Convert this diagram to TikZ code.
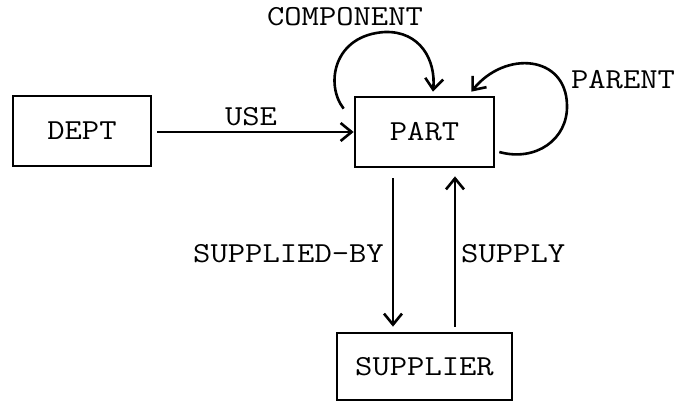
\documentclass[tikz,border=0pt]{standalone}
\usepackage{graphicx}
\usetikzlibrary{arrows.meta,calc}
% typewriter lettering, widened a little
\newcommand{\tw}[1]{\scalebox{1.16}[1]{\fontsize{29}{29}\selectfont\ttfamily #1}}
\tikzset{
  entity/.style={draw, line width=2.7pt, inner sep=0pt, minimum height=70pt},
  arr/.style={line width=2.6pt, -{Straight Barb[length=11pt,width=18pt,line width=2.6pt]}},
  lbl/.style={inner sep=0pt}
}
\begin{document}
\begin{tikzpicture}[x=1pt,y=-1pt]
\useasboundingbox (0,0) rectangle (683,403);

% entities
\node[entity, minimum width=138pt] (dept) at (82,131) {\tw{DEPT}};
\node[entity, minimum width=139pt] (part) at (424.5,132) {\tw{PART}};
\node[entity, minimum width=175pt, minimum height=67pt] (supplier) at (424.5,366.5) {\tw{SUPPLIER}};

% DEPT -> PART
\draw[arr] ($(dept.east)+(5,1)$) -- (part.west);
\node[lbl] (use) at (251,117) {\tw{USE}};

% recursive relationships on PART
\draw[arr] ($(part.north west)+(-10,13)$)
   .. controls (325,85) and (333,35) .. (385,32)
   .. controls (420,31) and (436,60) .. ($(part.north)+(8.5,-4)$);
\node[lbl] (component) at (345,17) {\tw{COMPONENT}};

\draw[arr] ($(part.east)+(4,20)$)
   .. controls (535,162) and (568,140) .. (567,105)
   .. controls (566,55) and (505,50) .. ($(part.north east)+(-24,-4)$);
\node[lbl] (parent) at (623,80) {\tw{PARENT}};

% PART <-> SUPPLIER
\draw[arr] ($(part.south)+(-31.5,10)$) -- ($(supplier.north)+(-31.5,-5)$);
\draw[arr] ($(supplier.north)+(30.5,-5)$) -- ($(part.south)+(30.5,8)$);
\node[lbl, anchor=east] (suppliedby) at (384,254) {\tw{SUPPLIED-BY}};
\node[lbl, anchor=west] (supply) at (461,254) {\tw{SUPPLY}};
\end{tikzpicture}
\end{document}
